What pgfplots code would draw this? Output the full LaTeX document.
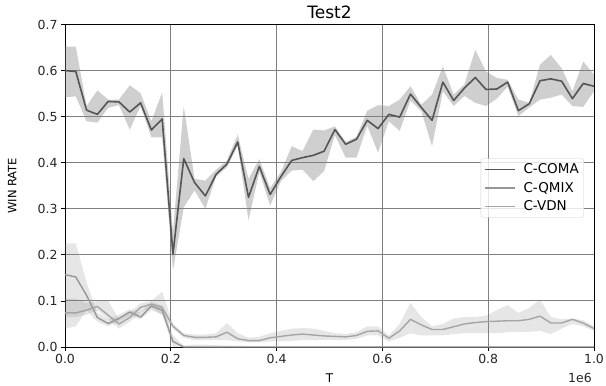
\documentclass[border=0pt]{standalone}
\usepackage{fontspec}
\setmainfont{DejaVu Sans}
\usepackage{pgfplots}
\pgfplotsset{compat=1.18}
\usepgfplotslibrary{fillbetween}
\usepackage{pgfplotstable}

\definecolor{comaline}{RGB}{85,85,85}
\definecolor{qmixline}{RGB}{150,150,150}
\definecolor{vdnline}{RGB}{165,165,165}
\definecolor{gridc}{RGB}{128,128,128}

\pgfplotstableread{
x coma cL cU qmix qL qU vdn vL vU
0.0000 0.600 0.542 0.652 0.157 0.040 0.225 0.074 0.065 0.105
0.0204 0.598 0.544 0.652 0.152 0.045 0.225 0.074 0.065 0.105
0.0408 0.514 0.490 0.523 0.112 0.080 0.140 0.080 0.070 0.095
0.0612 0.505 0.487 0.557 0.064 0.055 0.075 0.088 0.080 0.100
0.0816 0.533 0.519 0.537 0.051 0.045 0.060 0.069 0.060 0.100
0.1020 0.532 0.525 0.537 0.062 0.055 0.070 0.050 0.040 0.060
0.1224 0.510 0.472 0.568 0.076 0.068 0.082 0.064 0.055 0.075
0.1429 0.530 0.523 0.551 0.065 0.060 0.075 0.086 0.075 0.095
0.1633 0.471 0.455 0.490 0.089 0.080 0.098 0.093 0.085 0.100
0.1837 0.495 0.455 0.553 0.080 0.070 0.090 0.086 0.070 0.120
0.2041 0.202 0.166 0.250 0.012 0.000 0.025 0.045 0.040 0.050
0.2245 0.409 0.303 0.523 0.000 0.000 0.003 0.025 0.020 0.030
0.2449 0.357 0.340 0.365 0.000 0.000 0.005 0.021 0.015 0.027
0.2653 0.328 0.300 0.361 0.000 0.000 0.005 0.021 0.015 0.027
0.2857 0.375 0.370 0.385 0.000 0.000 0.004 0.022 0.015 0.030
0.3061 0.397 0.390 0.405 0.000 0.000 0.003 0.032 0.015 0.052
0.3265 0.445 0.437 0.461 0.000 0.000 0.003 0.018 0.012 0.030
0.3469 0.325 0.275 0.365 0.000 0.000 0.002 0.014 0.010 0.020
0.3673 0.392 0.380 0.408 0.000 0.000 0.002 0.014 0.010 0.022
0.3878 0.331 0.307 0.345 0.000 0.000 0.002 0.020 0.012 0.030
0.4082 0.370 0.360 0.380 0.000 0.000 0.002 0.023 0.012 0.035
0.4286 0.405 0.383 0.436 0.000 0.000 0.002 0.026 0.013 0.040
0.4490 0.411 0.385 0.425 0.000 0.000 0.002 0.028 0.015 0.041
0.4694 0.416 0.360 0.472 0.000 0.000 0.002 0.026 0.015 0.040
0.4898 0.425 0.382 0.470 0.000 0.000 0.002 0.024 0.015 0.035
0.5102 0.472 0.460 0.479 0.000 0.000 0.002 0.023 0.015 0.030
0.5306 0.440 0.411 0.445 0.000 0.000 0.002 0.022 0.015 0.028
0.5510 0.451 0.411 0.456 0.000 0.000 0.002 0.025 0.018 0.032
0.5714 0.492 0.480 0.513 0.000 0.000 0.002 0.034 0.025 0.045
0.5918 0.474 0.422 0.525 0.000 0.000 0.002 0.035 0.025 0.045
0.6122 0.505 0.490 0.523 0.000 0.000 0.002 0.019 0.012 0.025
0.6327 0.499 0.469 0.537 0.000 0.000 0.002 0.035 0.020 0.050
0.6531 0.549 0.535 0.566 0.000 0.000 0.002 0.060 0.030 0.096
0.6735 0.520 0.512 0.526 0.000 0.000 0.002 0.048 0.025 0.065
0.6939 0.492 0.436 0.548 0.000 0.000 0.002 0.038 0.025 0.045
0.7143 0.575 0.555 0.609 0.000 0.000 0.002 0.038 0.025 0.050
0.7347 0.535 0.523 0.548 0.000 0.000 0.002 0.044 0.028 0.062
0.7551 0.562 0.545 0.570 0.000 0.000 0.002 0.050 0.030 0.065
0.7755 0.585 0.530 0.645 0.000 0.000 0.002 0.053 0.030 0.065
0.7959 0.559 0.523 0.598 0.000 0.000 0.002 0.055 0.030 0.068
0.8163 0.560 0.539 0.584 0.000 0.000 0.002 0.056 0.030 0.080
0.8367 0.575 0.565 0.580 0.000 0.000 0.002 0.057 0.032 0.091
0.8571 0.513 0.501 0.537 0.000 0.000 0.002 0.057 0.033 0.074
0.8776 0.528 0.520 0.530 0.000 0.000 0.002 0.060 0.033 0.085
0.8980 0.578 0.537 0.613 0.000 0.000 0.002 0.067 0.035 0.103
0.9184 0.582 0.541 0.634 0.000 0.000 0.002 0.052 0.028 0.065
0.9388 0.577 0.548 0.605 0.000 0.000 0.002 0.052 0.040 0.060
0.9592 0.539 0.523 0.555 0.000 0.000 0.002 0.060 0.050 0.062
0.9796 0.572 0.521 0.620 0.000 0.000 0.002 0.052 0.045 0.058
1.0000 0.566 0.555 0.591 0.000 0.000 0.002 0.040 0.035 0.045
}\data

\begin{document}
\begin{tikzpicture}
\begin{axis}[
  at={(0,0)}, anchor=south west,
  scale only axis, width=529pt, height=322.5pt,
  xmin=0, xmax=1, ymin=0, ymax=0.7,
  xtick={0,0.2,0.4,0.6,0.8,1.0},
  xticklabels={0.0,0.2,0.4,0.6,0.8,1.0},
  ytick={0,0.1,0.2,0.3,0.4,0.5,0.6,0.7},
  yticklabels={0.0,0.1,0.2,0.3,0.4,0.5,0.6,0.7},
  tick label style={font=\fontsize{12.5}{14}\selectfont, text=black!85},
  xtick pos=bottom, ytick pos=left,
  tick align=outside,
  major tick length=4pt,
  every tick/.style={black, line width=0.8pt},
  grid=major,
  major grid style={gridc, line width=0.9pt},
  axis line style={black, line width=0.9pt},
  title={Test2},
  title style={font=\fontsize{17}{20}\selectfont, at={(axis description cs:0.5,1)}, anchor=base, yshift=0pt},
  xlabel={T},
  xlabel style={font=\fontsize{12}{14}\selectfont, at={(axis description cs:0.5,0)}, anchor=base, yshift=-35.7pt},
  ylabel={WIN RATE},
  ylabel style={font=\fontsize{11.5}{14}\selectfont, at={(axis description cs:-0.1,0.5)}, anchor=center},
  legend style={at={(0.981,0.493)}, anchor=east, draw=black!18, rounded corners=2pt,
     fill=white, fill opacity=0.8, text opacity=1, draw opacity=1,
     font=\fontsize{13.5}{15}\selectfont, row sep=3pt, column sep=6pt,
     inner xsep=3pt, inner ysep=3pt},
  legend cell align=left,
  legend image code/.code={\draw[#1, opacity=1] (0pt,0pt) -- (30pt,0pt);},
]
\addplot[draw=none, name path=cu, forget plot] table[x=x, y=cU]{\data};
\addplot[draw=none, name path=cl, forget plot] table[x=x, y=cL]{\data};
\addplot[fill=gray, fill opacity=0.38, draw=none, forget plot] fill between[of=cu and cl];
\addplot[draw=none, name path=qu, forget plot] table[x=x, y=qU]{\data};
\addplot[draw=none, name path=ql, forget plot] table[x=x, y=qL]{\data};
\addplot[fill=gray, fill opacity=0.2, draw=none, forget plot] fill between[of=qu and ql];
\addplot[draw=none, name path=vu, forget plot] table[x=x, y=vU]{\data};
\addplot[draw=none, name path=vl, forget plot] table[x=x, y=vL]{\data};
\addplot[fill=gray, fill opacity=0.2, draw=none, forget plot] fill between[of=vu and vl];

\addplot[comaline, line width=1.6pt, line join=round] table[x=x, y=coma]{\data};
\addlegendentry{C-COMA}
\addplot[qmixline, line width=1.4pt, line join=round] table[x=x, y=qmix]{\data};
\addlegendentry{C-QMIX}
\addplot[vdnline, line width=1.4pt, line join=round] table[x=x, y=vdn]{\data};
\addlegendentry{C-VDN}
\end{axis}
\node[anchor=base, font=\fontsize{12.5}{14}\selectfont, text=black!85] at (515pt,-35.7pt) {1e6};
\pgfresetboundingbox
\path (-65pt,-39pt) rectangle (541pt,347pt);
\end{tikzpicture}
\end{document}
